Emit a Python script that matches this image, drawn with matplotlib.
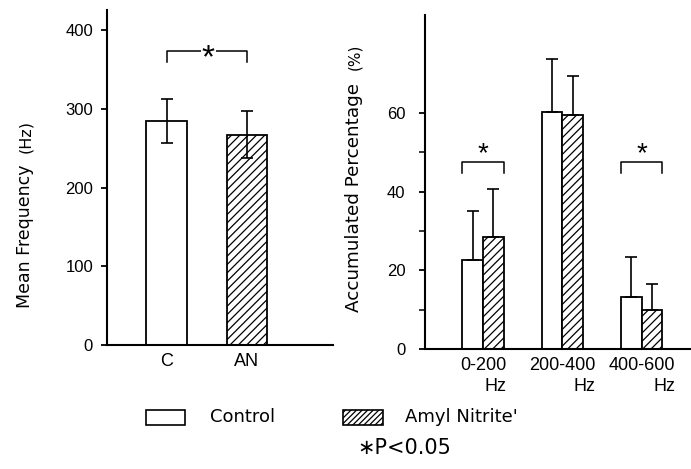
import numpy as np
import matplotlib.pyplot as plt
from matplotlib.patches import Rectangle

plt.rcParams['hatch.linewidth'] = 0.9
plt.rcParams['font.family'] = ['Liberation Sans', 'DejaVu Sans']

# left panel: mean frequency (Hz)
mf_labels = ['C', 'AN']
mf_values = [284, 267]
mf_err = [28, 30]

# right panel: accumulated percentage (%)
bands = ['0-200\nHz', '200-400\nHz', '400-600\nHz']
ctrl_pct = [22.6, 60.3, 13.3]
ctrl_err = [12.4, 13.5, 10.1]
amyl_pct = [28.5, 59.5, 9.9]
amyl_err = [12.2, 10.0, 6.6]

W, H = 691, 469
fig = plt.figure(figsize=(W / 100, H / 100), dpi=100)


def box(x0, y0, x1, y1):
    # pixel box (top-left origin) -> figure fraction rect
    return [x0 / W, 1 - y1 / H, (x1 - x0) / W, (y1 - y0) / H]


def style(ax):
    for s in ['top', 'right']:
        ax.spines[s].set_visible(False)
    for s in ['left', 'bottom']:
        ax.spines[s].set_linewidth(1.5)
    ax.tick_params(axis='y', direction='out', length=4, width=1.3, labelsize=12, pad=6)
    ax.tick_params(axis='y', which='minor', direction='out', length=4, width=1.1)
    ax.tick_params(axis='x', length=0, labelsize=13, pad=6)


# ---- left panel
ax1 = fig.add_axes(box(107, 10, 333, 345))
x1 = np.arange(len(mf_labels))
bw1 = 0.5
ax1.bar(x1[0], mf_values[0], bw1, color='white', edgecolor='black', linewidth=1.3)
ax1.bar(x1[1], mf_values[1], bw1, color='white', edgecolor='black', linewidth=1.3, hatch='////')
ax1.errorbar(x1, mf_values, yerr=mf_err, fmt='none', ecolor='black', elinewidth=1.2,
             capsize=4.5, capthick=1.2)
ax1.set_xlim(-0.74, 2.07)
ax1.set_ylim(0, 425.4)
ax1.set_yticks([0, 100, 200, 300, 400])
ax1.set_xticks(x1)
ax1.set_xticklabels(mf_labels)
style(ax1)

# significance bracket
ax1.plot([0, 0, 1, 1], [359, 373.5, 373.5, 359], color='black', lw=1.1)
ax1.text(0.52, 364, '*', ha='center', va='center', fontsize=24,
         bbox=dict(facecolor='white', edgecolor='none', pad=0.5))

# ---- right panel
ax2 = fig.add_axes(box(425, 15, 691, 349))
x2 = np.arange(len(bands))
bw2 = 0.26
ax2.bar(x2 - bw2 / 2, ctrl_pct, bw2, color='white', edgecolor='black', linewidth=1.3)
ax2.bar(x2 + bw2 / 2, amyl_pct, bw2, color='white', edgecolor='black', linewidth=1.3,
        hatch='////')
ax2.errorbar(x2 - bw2 / 2, ctrl_pct, yerr=[np.zeros(3), ctrl_err], fmt='none',
             ecolor='black', elinewidth=1.2, capsize=4.5, capthick=1.2)
ax2.errorbar(x2 + bw2 / 2, amyl_pct, yerr=[np.zeros(3), amyl_err], fmt='none',
             ecolor='black', elinewidth=1.2, capsize=4.5, capthick=1.2)
ax2.set_xlim(-0.73, 2.62)
ax2.set_ylim(0, 84.9)
ax2.set_yticks([0, 20, 40, 60])
ax2.set_yticks([10, 30, 50], minor=True)
ax2.set_xticks(x2)
ax2.set_xticklabels(bands, multialignment='right', linespacing=1.25)
style(ax2)
ax2.tick_params(axis='y', pad=10)

for g in [0, 2]:
    ax2.plot([g - bw2, g - bw2, g + bw2, g + bw2], [44.8, 47.6, 47.6, 44.8],
             color='black', lw=1.1)
    ax2.text(g, 49.5, '*', ha='center', va='center', fontsize=20)

# axis labels, sharing a baseline; the unit part is set smaller
lab = dict(rotation=90, rotation_mode='anchor', va='baseline', family='DejaVu Sans')
fig.text(30 / W, 1 - 308 / H, 'Mean Frequency', ha='left', fontsize=12.5, **lab)
fig.text(30 / W, 1 - 120 / H, '(Hz)', ha='right', fontsize=11.5, **lab)
fig.text(359 / W, 1 - 312 / H, 'Accumulated Percentage', ha='left', fontsize=13.2, **lab)
fig.text(359 / W, 1 - 44 / H, '(%)', ha='right', fontsize=11, **lab)

# legend
fig.patches.append(Rectangle((146 / W, 1 - 425 / H), 39 / W, 15 / H, transform=fig.transFigure,
                             facecolor='white', edgecolor='black', lw=1.2))
fig.patches.append(Rectangle((343 / W, 1 - 425 / H), 40 / W, 15 / H, transform=fig.transFigure,
                             facecolor='white', edgecolor='black', lw=1.2, hatch='//////'))
fig.text(210 / W, 1 - 417 / H, 'Control', va='center', fontsize=13, family='DejaVu Sans')
fig.text(405 / W, 1 - 417 / H, "Amyl Nitrite'", va='center', fontsize=13, family='DejaVu Sans')
fig.text(357 / W, 1 - 448 / H, '\u2217P<0.05', va='center', fontsize=15, family='DejaVu Sans')

fig.savefig('out.png', dpi=100)
